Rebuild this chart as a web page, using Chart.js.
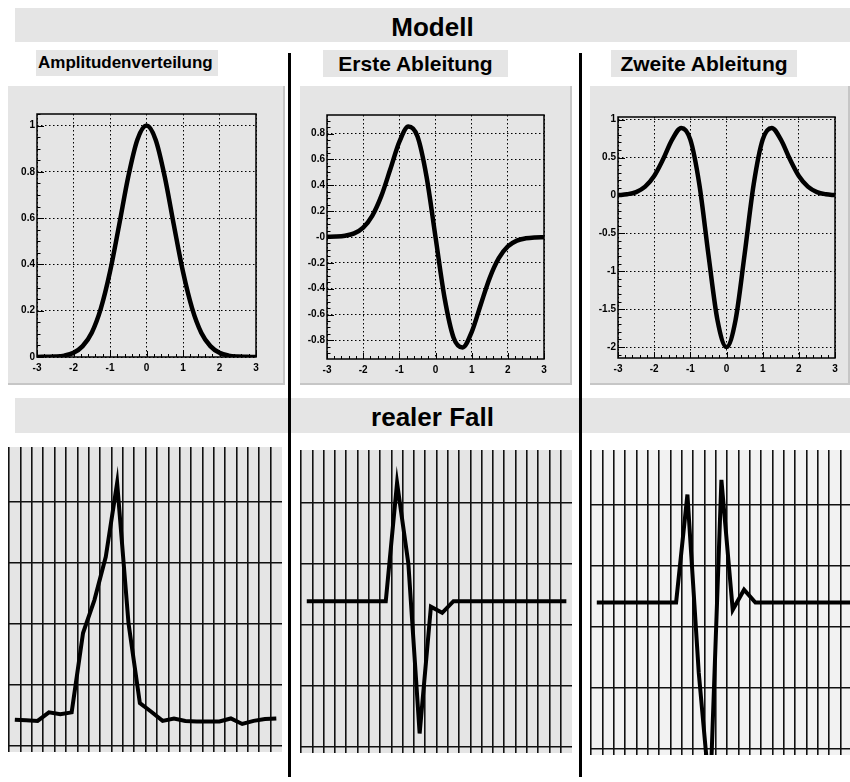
<!DOCTYPE html>
<html>
<head>
<meta charset="utf-8">
<title>Modell / realer Fall</title>
<script src="https://cdn.jsdelivr.net/npm/chart.js@4"></script>
<style>
  html, body { margin: 0; padding: 0; background: #fff; }
  body { width: 850px; height: 782px; position: relative; overflow: hidden;
         font-family: "Liberation Sans", Arial, sans-serif; color: #000; }
  .abs { position: absolute; }
  .banner { left: 15px; width: 835px; background: #e5e5e5; font-weight: bold;
            font-size: 26px; text-align: center; }
  .sub { background: #e5e5e5; font-weight: bold; white-space: nowrap; }
  .pad { background: #e5e5e5; box-shadow: inset -2px -2px 0 #c6c6c6; }
  .divider { background: #000; width: 3px; top: 53px; height: 724px; z-index: 5; }
  canvas { position: absolute; left: 0; top: 0; }
</style>
</head>
<body>

<div class="abs banner" style="top:8px;height:34px;line-height:38px;">Modell</div>
<div class="abs sub" style="left:36px;top:50px;width:180px;height:26px;line-height:26px;font-size:17px;padding-left:2px;">Amplitudenverteilung</div>
<div class="abs sub" style="left:323px;top:50px;width:185px;height:27px;line-height:28px;font-size:21px;text-align:center;">Erste Ableitung</div>
<div class="abs sub" style="left:611px;top:50px;width:186px;height:27px;line-height:28px;font-size:21px;text-align:center;">Zweite Ableitung</div>

<div class="abs pad" style="left:8px;top:86px;width:277px;height:299px;"><canvas id="modelAmp" width="277" height="299"></canvas></div>
<div class="abs pad" style="left:300px;top:86px;width:272px;height:299px;"><canvas id="modelD1" width="272" height="299"></canvas></div>
<div class="abs pad" style="left:590px;top:86px;width:260px;height:299px;"><canvas id="modelD2" width="260" height="299"></canvas></div>

<div class="abs banner" style="top:398px;height:35px;line-height:38px;">realer Fall</div>

<div class="abs" style="left:8px;top:447px;width:274px;height:305px;background:#e5e5e5;"><canvas id="realAmp" width="274" height="305"></canvas></div>
<div class="abs" style="left:300px;top:450px;width:272px;height:303px;background:#e5e5e5;"><canvas id="realD1" width="272" height="303"></canvas></div>
<div class="abs" style="left:590px;top:450px;width:273px;height:305px;background:#f2f2f2;"><canvas id="realD2" width="273" height="305"></canvas></div>

<div class="abs divider" style="left:288px;"></div>
<div class="abs divider" style="left:579px;"></div>

<script>
// model curves, sampled every 0.25
const modelX = [-3, -2.75, -2.5, -2.25, -2, -1.75, -1.5, -1.25, -1, -0.75, -0.5, -0.25, 0,
                0.25, 0.5, 0.75, 1, 1.25, 1.5, 1.75, 2, 2.25, 2.5, 2.75, 3];
const ampModel = [0.000, 0.001, 0.002, 0.006, 0.018, 0.047, 0.105, 0.210, 0.368, 0.570, 0.779, 0.939, 1.000,
                  0.939, 0.779, 0.570, 0.368, 0.210, 0.105, 0.047, 0.018, 0.006, 0.002, 0.001, 0.000];
const d1Model = [0.001, 0.003, 0.010, 0.028, 0.073, 0.164, 0.316, 0.524, 0.736, 0.855, 0.779, 0.470, 0.000,
                 -0.470, -0.779, -0.855, -0.736, -0.524, -0.316, -0.164, -0.073, -0.028, -0.010, -0.003, -0.001];
const d2Model = [0.004, 0.015, 0.044, 0.116, 0.256, 0.480, 0.738, 0.891, 0.736, 0.142, -0.779, -1.644, -2.000,
                 -1.644, -0.779, 0.142, 0.736, 0.891, 0.738, 0.480, 0.256, 0.116, 0.044, 0.015, 0.004];

const xTickLabels = ['-3', '-2', '-1', '0', '1', '2', '3'];
const ampTickLabels = ['0', '0.2', '0.4', '0.6', '0.8', '1'];
const d1TickLabels = ['-0.8', '-0.6', '-0.4', '-0.2', '-0', '0.2', '0.4', '0.6', '0.8'];
const d2TickLabels = ['-2', '-1.5', '-1', '-0.5', '0', '0.5', '1'];

// measured signal, one value per channel
const channels = [0, 1, 2, 3, 4, 5, 6, 7, 8, 9, 10, 11, 12, 13, 14, 15, 16, 17, 18, 19, 20, 21, 22, 23];
const channelEdges = [-0.5, 0.5, 1.5, 2.5, 3.5, 4.5, 5.5, 6.5, 7.5, 8.5, 9.5, 10.5, 11.5,
                      12.5, 13.5, 14.5, 15.5, 16.5, 17.5, 18.5, 19.5, 20.5, 21.5, 22.5];
const levelLines = [0, 1, 2, 3, 4];
const ampReal = [0.43, 0.42, 0.41, 0.55, 0.52, 0.55, 1.85, 2.39, 3.10, 4.31, 2.01, 0.70,
                 0.56, 0.41, 0.45, 0.41, 0.40, 0.40, 0.40, 0.45, 0.36, 0.41, 0.44, 0.45];
const d1Real = [2.39, 2.39, 2.39, 2.39, 2.39, 2.39, 2.39, 2.39, 4.33, 3.01, 0.22, 2.30,
                2.20, 2.39, 2.39, 2.39, 2.39, 2.39, 2.39, 2.39, 2.39, 2.39, 2.39, 2.39];
const d2Real = [2.40, 2.40, 2.40, 2.40, 2.40, 2.40, 2.40, 2.40, 4.17, 1.25, -0.80, 4.41,
                2.28, 2.61, 2.40, 2.40, 2.40, 2.40, 2.40, 2.40, 2.40, 2.40, 2.40, 2.40];

const tickFont = { family: 'Liberation Sans', size: 10, weight: 'bold' };

// frame box plus inward major/minor tick marks on the bottom and left axes
const framePlugin = {
  id: 'frame',
  afterDatasetsDraw(chart, args, opts) {
    if (!opts.show) return;
    const { ctx, chartArea: a, scales: { x, y } } = chart;
    const isMajor = (scale, v) => scale.ticks.some(t => Math.abs(t.value - v) < 1e-6);
    ctx.save();
    ctx.strokeStyle = '#000';
    ctx.lineWidth = 1;
    ctx.beginPath();
    for (let i = Math.ceil(x.min / opts.xMinor - 1e-6); i * opts.xMinor <= x.max + 1e-6; i++) {
      const v = i * opts.xMinor;
      const px = Math.round(x.getPixelForValue(v)) + 0.5;
      ctx.moveTo(px, a.bottom);
      ctx.lineTo(px, a.bottom - (isMajor(x, v) ? 6 : 3));
    }
    for (let i = Math.ceil(y.min / opts.yMinor - 1e-6); i * opts.yMinor <= y.max + 1e-6; i++) {
      const v = i * opts.yMinor;
      const py = Math.round(y.getPixelForValue(v)) + 0.5;
      ctx.moveTo(a.left, py);
      ctx.lineTo(a.left + (isMajor(y, v) ? 7 : 3.5), py);
    }
    ctx.stroke();
    ctx.lineWidth = 1.5;
    ctx.strokeRect(a.left, a.top, a.right - a.left, a.bottom - a.top);
    ctx.restore();
  }
};
Chart.register(framePlugin);

function modelChart(id, values, yMin, yMax, yStep, yMinor, yLabels, pad) {
  const ctx = document.getElementById(id).getContext('2d');
  return new Chart(ctx, {
    type: 'line',
    data: {
      datasets: [{
        data: modelX.map((x, i) => ({ x: x, y: values[i] })),
        borderColor: '#000',
        borderWidth: 4.5,
        pointRadius: 0,
        fill: false,
        cubicInterpolationMode: 'monotone'
      }]
    },
    options: {
      responsive: false,
      animation: false,
      devicePixelRatio: 1,
      layout: { padding: { left: 0, right: pad.right, top: pad.top, bottom: 0 } },
      plugins: {
        legend: { display: false },
        tooltip: { enabled: false },
        frame: { show: true, xMinor: 0.2, yMinor: yMinor }
      },
      scales: {
        x: {
          type: 'linear', min: -3, max: 3,
          ticks: { stepSize: 1, font: tickFont, color: '#000', padding: 5, maxRotation: 0,
                   autoSkip: false, callback: (v, i) => xTickLabels[i] },
          grid: { color: '#000', lineWidth: 1, drawTicks: false },
          border: { display: false, dash: [1.5, 2.5] },
          afterFit: s => { s.height = pad.bottom; }
        },
        y: {
          type: 'linear', min: yMin, max: yMax,
          ticks: { stepSize: yStep, includeBounds: false, font: tickFont, color: '#000', padding: 2,
                   autoSkip: false, callback: (v, i) => yLabels[i] },
          grid: { color: '#000', lineWidth: 1, drawTicks: false },
          border: { display: false, dash: [1.5, 2.5] },
          afterFit: s => { s.width = pad.left; }
        }
      }
    }
  });
}

function signalChart(id, values, yMax) {
  const ctx = document.getElementById(id).getContext('2d');
  return new Chart(ctx, {
    type: 'line',
    data: {
      datasets: [{
        data: channels.map((c, i) => ({ x: c, y: values[i] })),
        borderColor: '#000',
        borderWidth: 4,
        pointRadius: 0,
        fill: false,
        tension: 0
      }]
    },
    options: {
      responsive: false,
      animation: false,
      devicePixelRatio: 1,
      layout: { padding: 0 },
      plugins: { legend: { display: false }, tooltip: { enabled: false } },
      scales: {
        x: {
          type: 'linear', min: -0.6, max: 23.5,
          afterBuildTicks: s => { s.ticks = channelEdges.map(v => ({ value: v })); },
          ticks: { display: false },
          grid: { color: '#111', lineWidth: 1.6, drawTicks: false },
          border: { display: false },
          afterFit: s => { s.height = 0; }
        },
        y: {
          type: 'linear', min: -0.1, max: yMax,
          afterBuildTicks: s => { s.ticks = levelLines.map(v => ({ value: v })); },
          ticks: { display: false },
          grid: { color: '#111', lineWidth: 1.4, drawTicks: false },
          border: { display: false },
          afterFit: s => { s.width = 0; }
        }
      }
    }
  });
}

modelChart('modelAmp', ampModel, 0, 1.05, 0.2, 0.05, ampTickLabels,
           { left: 29, right: 29, top: 28, bottom: 28 });
modelChart('modelD1', d1Model, -0.944, 0.944, 0.2, 0.05, d1TickLabels,
           { left: 27, right: 28, top: 29, bottom: 26 });
modelChart('modelD2', d2Model, -2.1445, 1.0345, 0.5, 0.1, d2TickLabels,
           { left: 28, right: 15, top: 31, bottom: 27 });

signalChart('realAmp', ampReal, 4.9);
signalChart('realD1', d1Real, 4.87);
signalChart('realD2', d2Real, 4.9);
</script>
</body>
</html>
